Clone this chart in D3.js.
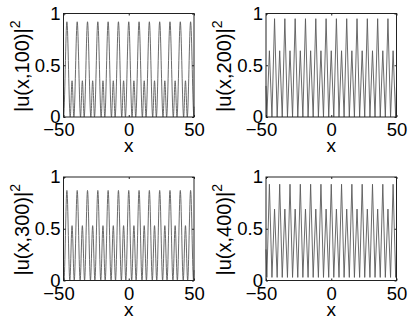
<!DOCTYPE html>
<html>
<head>
<meta charset="utf-8">
<script src="https://cdnjs.cloudflare.com/ajax/libs/d3/7.8.5/d3.min.js"></script>
<style>
  html, body { margin: 0; padding: 0; background: #fff; }
  svg { display: block; }
  text { font-family: "Liberation Sans", Arial, Helvetica, sans-serif; fill: #000; }
</style>
</head>
<body>
<div id="chart"></div>
<script>
// |u(x,t)|^2 snapshots as [x, value] at peaks and zeros
const u100 = [[-50,0.1],[-49.95,0],[-47.4,0.92],[-44.85,0],[-43.45,0.35],[-42.05,0],[-39.5,0.92],[-36.95,0],[-35.55,0.35],[-34.15,0],[-31.6,0.92],[-29.05,0],[-27.65,0.35],[-26.25,0],[-23.7,0.92],[-21.15,0],[-19.75,0.35],[-18.35,0],[-15.8,0.92],[-13.25,0],[-11.85,0.35],[-10.45,0],[-7.9,0.92],[-5.35,0],[-3.95,0.35],[-2.55,0],[0,0.92],[2.55,0],[3.95,0.35],[5.35,0],[7.9,0.92],[10.45,0],[11.85,0.35],[13.25,0],[15.8,0.92],[18.35,0],[19.75,0.35],[21.15,0],[23.7,0.92],[26.25,0],[27.65,0.35],[29.05,0],[31.6,0.92],[34.15,0],[35.55,0.35],[36.95,0],[39.5,0.92],[42.05,0],[43.45,0.35],[44.85,0],[47.4,0.92],[49.95,0],[50,0.1]];

const u200 = [[-50,0.3],[-49.35,0],[-47.4,0.64],[-45.45,0],[-43.45,0.95],[-41.45,0],[-39.5,0.64],[-37.55,0],[-35.55,0.95],[-33.55,0],[-31.6,0.64],[-29.65,0],[-27.65,0.95],[-25.65,0],[-23.7,0.64],[-21.75,0],[-19.75,0.95],[-17.75,0],[-15.8,0.64],[-13.85,0],[-11.85,0.95],[-9.85,0],[-7.9,0.64],[-5.95,0],[-3.95,0.95],[-1.95,0],[0,0.64],[1.95,0],[3.95,0.95],[5.95,0],[7.9,0.64],[9.85,0],[11.85,0.95],[13.85,0],[15.8,0.64],[17.75,0],[19.75,0.95],[21.75,0],[23.7,0.64],[25.65,0],[27.65,0.95],[29.65,0],[31.6,0.64],[33.55,0],[35.55,0.95],[37.55,0],[39.5,0.64],[41.45,0],[43.45,0.95],[45.45,0],[47.4,0.64],[49.35,0],[50,0.3]];

const u300 = [[-50,0.1],[-49.65,0],[-47.4,0.87],[-45.15,0],[-43.45,0.53],[-41.75,0],[-39.5,0.87],[-37.25,0],[-35.55,0.53],[-33.85,0],[-31.6,0.87],[-29.35,0],[-27.65,0.53],[-25.95,0],[-23.7,0.87],[-21.45,0],[-19.75,0.53],[-18.05,0],[-15.8,0.87],[-13.55,0],[-11.85,0.53],[-10.15,0],[-7.9,0.87],[-5.65,0],[-3.95,0.53],[-2.25,0],[0,0.87],[2.25,0],[3.95,0.53],[5.65,0],[7.9,0.87],[10.15,0],[11.85,0.53],[13.55,0],[15.8,0.87],[18.05,0],[19.75,0.53],[21.45,0],[23.7,0.87],[25.95,0],[27.65,0.53],[29.35,0],[31.6,0.87],[33.85,0],[35.55,0.53],[37.25,0],[39.5,0.87],[41.75,0],[43.45,0.53],[45.15,0],[47.4,0.87],[49.65,0],[50,0.1]];

const u400 = [[-50,0.3],[-49.35,0.03],[-47.4,0.93],[-45.45,0.03],[-43.45,0.69],[-41.45,0.03],[-39.5,0.93],[-37.55,0.03],[-35.55,0.69],[-33.55,0.03],[-31.6,0.93],[-29.65,0.03],[-27.65,0.69],[-25.65,0.03],[-23.7,0.93],[-21.75,0.03],[-19.75,0.69],[-17.75,0.03],[-15.8,0.93],[-13.85,0.03],[-11.85,0.69],[-9.85,0.03],[-7.9,0.93],[-5.95,0.03],[-3.95,0.69],[-1.95,0.03],[0,0.93],[1.95,0.03],[3.95,0.69],[5.95,0.03],[7.9,0.93],[9.85,0.03],[11.85,0.69],[13.85,0.03],[15.8,0.93],[17.75,0.03],[19.75,0.69],[21.75,0.03],[23.7,0.93],[25.65,0.03],[27.65,0.69],[29.65,0.03],[31.6,0.93],[33.55,0.03],[35.55,0.69],[37.55,0.03],[39.5,0.93],[41.45,0.03],[43.45,0.69],[45.45,0.03],[47.4,0.93],[49.35,0.03],[50,0.3]];

const times = ["100", "200", "300", "400"];
const xTicks = [-50, 0, 50];
const yTicks = [0, 0.5, 1];

const W = 409, H = 326;

// panel boxes (left, top) in pixels, all same size
const boxW = 130.5, boxH = 103.5;
const panels = [
    { data: u100, t: times[0], left: 63.5, top: 13.5, curve: d3.curveMonotoneX },
    { data: u200, t: times[1], left: 266, top: 13.5, curve: d3.curveLinear },
    { data: u300, t: times[2], left: 63.5, top: 177, curve: d3.curveMonotoneX },
    { data: u400, t: times[3], left: 266, top: 177, curve: d3.curveLinear }
];

const svg = d3.select("#chart").append("svg")
    .attr("width", W)
    .attr("height", H);

panels.forEach(p => {
    const g = svg.append("g").attr("transform", `translate(${p.left},${p.top})`);

    const x = d3.scaleLinear().domain([-50, 50]).range([0, boxW]);
    const y = d3.scaleLinear().domain([0, 1]).range([boxH, 0]);

    const line = d3.line()
        .x(d => x(d[0]))
        .y(d => y(d[1]))
        .curve(p.curve);

    g.append("path")
        .datum(p.data)
        .attr("fill", "none")
        .attr("stroke", "#5a5a5a")
        .attr("stroke-width", 0.9)
        .attr("d", line);

    // box
    g.append("rect")
        .attr("width", boxW).attr("height", boxH)
        .attr("fill", "none")
        .attr("stroke", "#222")
        .attr("stroke-width", 1);

    const fmt = d => d < 0 ? "\u221250" : String(d);

    const xAxis = g.append("g")
        .attr("transform", `translate(0,${boxH})`)
        .call(d3.axisBottom(x).tickValues(xTicks).tickSize(-2).tickPadding(6).tickFormat(fmt));
    xAxis.selectAll("text").attr("dx", d => d < 0 ? -5 : 0);

    g.append("g")
        .call(d3.axisTop(x).tickValues(xTicks).tickSize(-2).tickFormat(""));

    g.append("g")
        .call(d3.axisLeft(y).tickValues(yTicks).tickSize(-2).tickPadding(3).tickFormat(d3.format("")));

    g.append("g")
        .attr("transform", `translate(${boxW},0)`)
        .call(d3.axisRight(y).tickValues(yTicks).tickSize(-2).tickFormat(""));

    g.selectAll(".domain").remove();
    g.selectAll(".tick line").attr("stroke", "#222");
    g.selectAll(".tick text")
        .attr("font-size", 18.5)
        .attr("font-family", "Liberation Sans, Arial, sans-serif")
        .attr("fill", "#000");

    // x label
    g.append("text")
        .attr("x", boxW / 2)
        .attr("y", boxH + 35)
        .attr("text-anchor", "middle")
        .attr("font-size", 19)
        .text("x");

    // y label
    const yl = g.append("text")
        .attr("transform", `translate(-35,${boxH / 2 + 1}) rotate(-90)`)
        .attr("text-anchor", "middle")
        .attr("font-size", 20);
    yl.append("tspan").text(`|u(x,${p.t})|`);
    yl.append("tspan").attr("dy", -9).attr("font-size", 14).text("2");
});
</script>
</body>
</html>
